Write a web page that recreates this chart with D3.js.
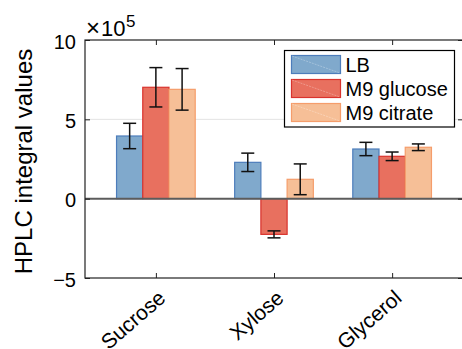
<!DOCTYPE html>
<html><head><meta charset="utf-8">
<script src="https://cdn.jsdelivr.net/npm/d3@7"></script>
<style>body{margin:0;background:#fff}svg{display:block;font-family:"Liberation Sans",Arial,sans-serif}</style>
</head><body>
<svg id="c" width="462" height="349"></svg>
<script>
const categories = ["Sucrose", "Xylose", "Glycerol"];
const seriesNames = ["LB", "M9 glucose", "M9 citrate"];
const lbValues = [3.95, 2.29, 3.13];
const lbErrors = [0.80, 0.58, 0.42];
const glucoseValues = [7.02, -2.25, 2.67];
const glucoseErrors = [1.24, 0.22, 0.27];
const citrateValues = [6.89, 1.22, 3.24];
const citrateErrors = [1.31, 0.97, 0.21];
const yTicks = [-5, 0, 5, 10];
const fills = ["#80a9cc", "#e8705f", "#f6bf97"];
const strokes = ["#4d7dbb", "#d9332e", "#f59d6b"];

const values = [lbValues, glucoseValues, citrateValues];
const errors = [lbErrors, glucoseErrors, citrateErrors];

const svg = d3.select("#c");
const FF = "Liberation Sans, Arial, sans-serif";
const L = 85, R = 463, T = 40, B = 278;
const x = d3.scaleLinear().domain([0.4, 3.6]).range([L, R]);
const y = d3.scaleLinear().domain([-5, 10]).range([B, T]);
const bw = 0.222;

// grid
svg.append("g").selectAll("line").data(yTicks.filter(t => t > -5 && t < 10 && t !== 0)).join("line")
  .attr("x1", L).attr("x2", R).attr("y1", d => y(d)).attr("y2", d => y(d))
  .attr("stroke", "#e3e3e3").attr("stroke-width", 1);

// bars
values.forEach((vals, s) => {
  const g = svg.append("g");
  g.selectAll("rect").data(vals).join("rect")
    .attr("x", (d, i) => x(i + 1 + (s - 1) * bw - bw / 2))
    .attr("width", x(bw) - x(0))
    .attr("y", d => y(Math.max(0, d)))
    .attr("height", d => Math.abs(y(d) - y(0)))
    .attr("fill", fills[s]).attr("stroke", strokes[s]).attr("stroke-width", 1.2);
});

// zero baseline
svg.append("line").attr("x1", L).attr("x2", R).attr("y1", y(0)).attr("y2", y(0))
  .attr("stroke", "#5c5c5c").attr("stroke-width", 2);

// error bars
values.forEach((vals, s) => {
  const g = svg.append("g").attr("stroke", "#111").attr("stroke-width", 1.5);
  vals.forEach((v, i) => {
    const cx = x(i + 1 + (s - 1) * bw);
    const e = errors[s][i];
    const y1 = y(v + e), y2 = y(v - e);
    g.append("line").attr("x1", cx).attr("x2", cx).attr("y1", y1).attr("y2", y2);
    g.append("line").attr("x1", cx - 6.5).attr("x2", cx + 6.5).attr("y1", y1).attr("y2", y1);
    g.append("line").attr("x1", cx - 6.5).attr("x2", cx + 6.5).attr("y1", y2).attr("y2", y2);
  });
});

// axes box
const axG = svg.append("g");
axG.append("g").attr("transform", `translate(${L},0)`)
  .call(d3.axisLeft(y).tickValues(yTicks).tickSize(-5).tickPadding(9).tickFormat(d => d < 0 ? "\u2212" + Math.abs(d) : d))
  .call(g => g.select(".domain").remove());
axG.append("g").attr("transform", `translate(0,${B})`)
  .call(d3.axisBottom(x).tickValues([1, 2, 3]).tickSize(-5).tickFormat(""))
  .call(g => g.select(".domain").remove());
axG.append("g").attr("transform", `translate(0,${T})`)
  .call(d3.axisTop(x).tickValues([1, 2, 3]).tickSize(-5).tickFormat(""))
  .call(g => g.select(".domain").remove());
axG.append("g").attr("transform", `translate(${R},0)`)
  .call(d3.axisRight(y).tickValues(yTicks).tickSize(-5).tickFormat(""))
  .call(g => g.select(".domain").remove());
axG.selectAll(".tick line").attr("stroke", "#222").attr("stroke-width", 1);
axG.selectAll(".tick text").attr("font-size", 20).attr("fill", "#000").attr("dy", "0.4em")
  .attr("font-family", FF);
axG.append("rect").attr("x", L).attr("y", T).attr("width", R - L).attr("height", B - T)
  .attr("fill", "none").attr("stroke", "#222").attr("stroke-width", 1.2);

// x tick labels rotated
svg.append("g").selectAll("text").data(categories).join("text")
  .attr("transform", (d, i) => `translate(${x(i + 1) + 11},${B + 22}) rotate(-41)`)
  .attr("text-anchor", "end").attr("font-size", 21).attr("fill", "#000")
  .text(d => d);

// exponent label (separate texts)
svg.append("text").attr("x", L + 1).attr("y", 36).attr("font-size", 24).attr("fill", "#000")
  .attr("font-family", FF).text("\u00d7");
svg.append("text").attr("x", L + 16).attr("y", 36).attr("font-size", 22).attr("fill", "#000")
  .attr("font-family", FF).text("10");
svg.append("text").attr("x", L + 41).attr("y", 27).attr("font-size", 17).attr("fill", "#000")
  .attr("font-family", FF).text("5");

// y label
svg.append("text").attr("transform", `translate(32,161.5) rotate(-90)`)
  .attr("text-anchor", "middle").attr("font-size", 24).attr("fill", "#000")
  .text("HPLC integral values");

// legend
const lg = svg.append("g");
lg.append("rect").attr("x", 284.5).attr("y", 50.5).attr("width", 170).attr("height", 76.5)
  .attr("fill", "#fff").attr("stroke", "#000").attr("stroke-width", 1.2);
seriesNames.forEach((n, s) => {
  const cy = 64.5 + s * 24;
  lg.append("rect").attr("x", 291.5).attr("y", cy - 9).attr("width", 49).attr("height", 18)
    .attr("fill", fills[s]).attr("stroke", strokes[s]).attr("stroke-width", 1.2);
  lg.append("line").attr("x1", 292).attr("y1", cy - 8.5).attr("x2", 340).attr("y2", cy + 8.5)
    .attr("stroke", "#fff").attr("stroke-opacity", 0.35).attr("stroke-width", 0.8).attr("stroke-dasharray", "2,1");
  lg.append("text").attr("x", 345.5).attr("y", cy + 7).attr("font-size", 20).attr("fill", "#000").text(n);
});
</script>
</body></html>
